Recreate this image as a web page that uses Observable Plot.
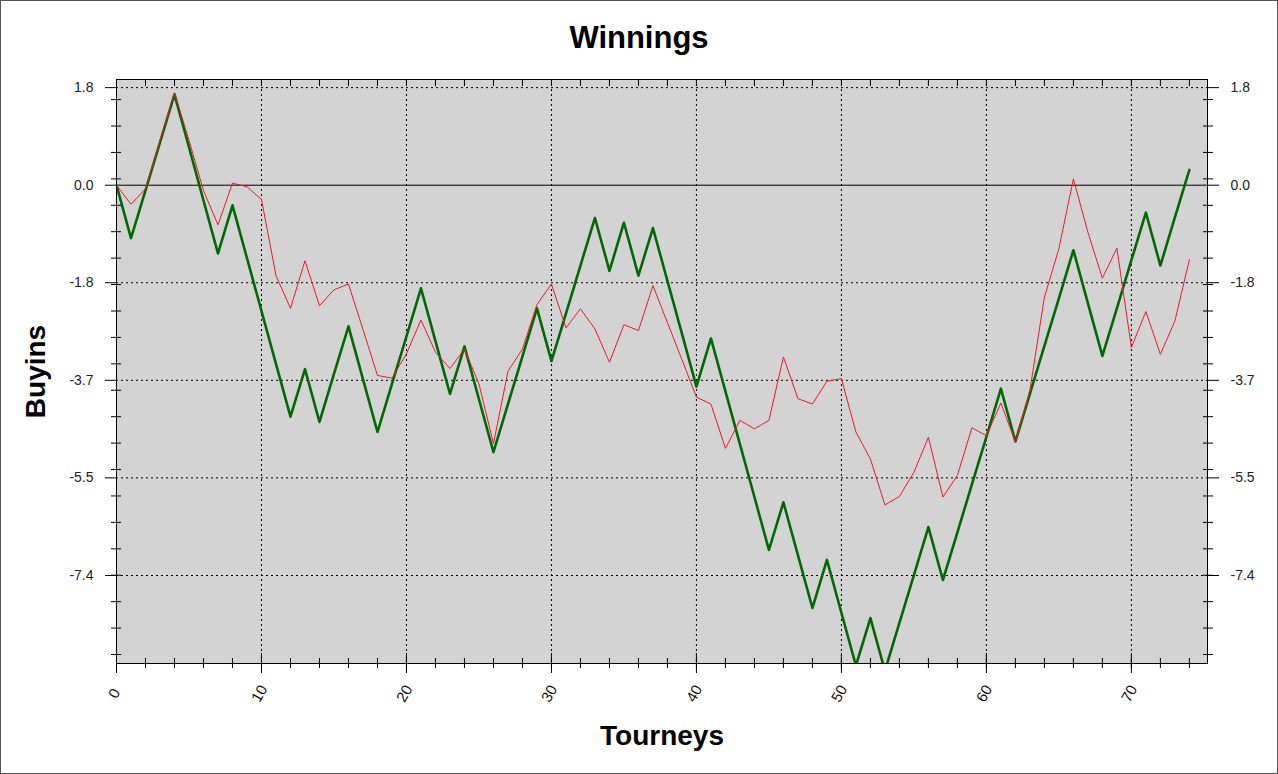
<!DOCTYPE html>
<html>
<head>
<meta charset="utf-8">
<script src="https://cdn.jsdelivr.net/npm/d3@7"></script>
<script src="https://cdn.jsdelivr.net/npm/@observablehq/plot@0.6"></script>
<style>
  html, body { margin: 0; padding: 0; background: #fff; }
  #wrap { position: relative; width: 1278px; height: 774px; background: #fff; overflow: hidden;
          font-family: "Liberation Sans", Arial, sans-serif; }
  #title { position: absolute; top: 19px; left: 0; width: 100%; text-align: center;
           font-size: 31px; line-height: 38px; font-weight: bold; color: #000; }
  #chart { position: absolute; top: 60px; left: 0; }
  #border { position: absolute; inset: 0; border: 1px solid #555; pointer-events: none; }
</style>
</head>
<body>
<div id="wrap">
  <div id="title">Winnings</div>
  <div id="chart"></div>
  <div id="border"></div>
</div>
<script>
// Tourney index 0..74
const tourneys = d3.range(0, 75);

// Thick green series (actual winnings, in buyins)
const greenValues = [
  0, -1.00, -0.10, 0.81, 1.72, 0.72, -0.29, -1.29, -0.38, -1.38,
  -2.38, -3.38, -4.38, -3.48, -4.48, -3.57, -2.67, -3.67, -4.67, -3.76,
  -2.86, -1.95, -2.95, -3.95, -3.05, -4.05, -5.05, -4.14, -3.24, -2.33,
  -3.33, -2.43, -1.52, -0.62, -1.62, -0.71, -1.71, -0.81, -1.81, -2.81,
  -3.81, -2.90, -3.90, -4.90, -5.90, -6.90, -6.00, -7.00, -8.00, -7.09,
  -8.09, -9.09, -8.19, -9.19, -8.28, -7.38, -6.47, -7.47, -6.57, -5.66,
  -4.76, -3.85, -4.85, -3.95, -3.04, -2.14, -1.23, -2.23, -3.23, -2.33,
  -1.42, -0.52, -1.52, -0.61, 0.29
];

// Thin red series
const redValues = [
  0, -0.36, -0.07, 0.85, 1.75, 0.85, -0.10, -0.75, 0.04, -0.03,
  -0.27, -1.71, -2.33, -1.43, -2.28, -1.98, -1.87, -2.73, -3.60, -3.65,
  -3.19, -2.55, -3.16, -3.47, -3.10, -3.76, -4.89, -3.52, -3.10, -2.26,
  -1.87, -2.70, -2.34, -2.72, -3.35, -2.64, -2.75, -1.90, -2.60, -3.30,
  -4.01, -4.14, -4.98, -4.45, -4.61, -4.45, -3.25, -4.04, -4.14, -3.71,
  -3.66, -4.67, -5.18, -6.05, -5.89, -5.43, -4.77, -5.90, -5.49, -4.59,
  -4.74, -4.12, -4.86, -3.88, -2.12, -1.20, 0.12, -0.89, -1.76, -1.19,
  -3.07, -2.39, -3.20, -2.57, -1.41
];

// Axis ticks
const yMajor = [1.846, 0, -1.846, -3.692, -5.538, -7.385];
const yGrid = [1.846, -1.846, -3.692, -5.538, -7.385];
const yMinor = [1.62, 1.12, 0.62, 0.12, -0.38, -0.88, -1.38, -1.88, -2.38, -2.88, -3.38,
  -3.88, -4.38, -4.88, -5.38, -5.88, -6.38, -6.88, -7.38, -7.88, -8.38, -8.88];
const xMajor = [0, 10, 20, 30, 40, 50, 60, 70];
const xGrid = [10, 20, 30, 40, 50, 60, 70];
const xMinor = d3.range(0, 75, 2);

const green = tourneys.map((t, i) => ({t, v: greenValues[i]}));
const red = tourneys.map((t, i) => ({t, v: redValues[i]}));

const fmt = d => d.toFixed(1);
const font = "Liberation Sans, Arial, sans-serif";

const chart = Plot.plot({
  width: 1278,
  height: 714,
  marginTop: 19,
  marginBottom: 111,
  marginLeft: 116,
  marginRight: 71,
  x: {domain: [0, 75.25]},
  y: {domain: [-9.05, 2.0]},
  style: {fontFamily: font, background: "white", overflow: "visible"},
  marks: [
    Plot.frame({fill: "#d3d3d3"}),
    Plot.gridX(xGrid, {stroke: "black", strokeOpacity: 1, strokeDasharray: "2,3", strokeWidth: 1}),
    Plot.gridY(yGrid, {stroke: "black", strokeOpacity: 1, strokeDasharray: "2,3", strokeWidth: 1}),
    Plot.ruleY([0], {stroke: "black", strokeWidth: 1}),
    Plot.line(green, {x: "t", y: "v", stroke: "#006a00", strokeWidth: 2.6, clip: true}),
    Plot.line(red, {x: "t", y: "v", stroke: "#ee1c24", strokeWidth: 1, clip: true}),
    Plot.frame({stroke: "black", strokeWidth: 1}),
    // left axis
    Plot.axisY(yMajor, {anchor: "left", tickSize: 11, tickPadding: 12, tickFormat: fmt,
      fontSize: 14, fill: "#222", label: null}),
    Plot.axisY(yMinor, {anchor: "left", tickSize: 10, dx: 5, tickFormat: () => "", label: null}),
    // right axis
    Plot.axisY(yMajor, {anchor: "right", tickSize: 11, tickPadding: 12, tickFormat: fmt,
      fontSize: 14, fill: "#222", label: null}),
    Plot.axisY(yMinor, {anchor: "right", tickSize: 10, dx: -5, tickFormat: () => "", label: null}),
    // bottom axis
    Plot.axisX(xMinor, {anchor: "bottom", tickSize: 10, dy: -5, tickFormat: () => "", label: null}),
    Plot.axisX(xMajor, {anchor: "bottom", tickSize: 20, dy: -10, tickFormat: () => "", label: null}),
    // top axis (inward ticks)
    Plot.axisX(xMinor, {anchor: "top", tickSize: 6, dy: 6, tickFormat: () => "", label: null}),
    // rotated x tick labels
    Plot.text(xMajor, {x: d => d, text: d => String(d), frameAnchor: "bottom", dy: 30, dx: -2,
      textAnchor: "middle", lineAnchor: "middle", rotate: -60, fontSize: 15, fill: "#111"}),
    // axis titles
    Plot.text(["Buyins"], {frameAnchor: "left", dx: -80, rotate: -90, text: d => d,
      textAnchor: "middle", lineAnchor: "middle", fontSize: 28, fontWeight: "bold", fill: "#000"}),
    Plot.text(["Tourneys"], {frameAnchor: "bottom", dy: 73, text: d => d,
      textAnchor: "middle", lineAnchor: "middle", fontSize: 28, fontWeight: "bold", fill: "#000"})
  ]
});

document.getElementById("chart").appendChild(chart);
</script>
</body>
</html>
